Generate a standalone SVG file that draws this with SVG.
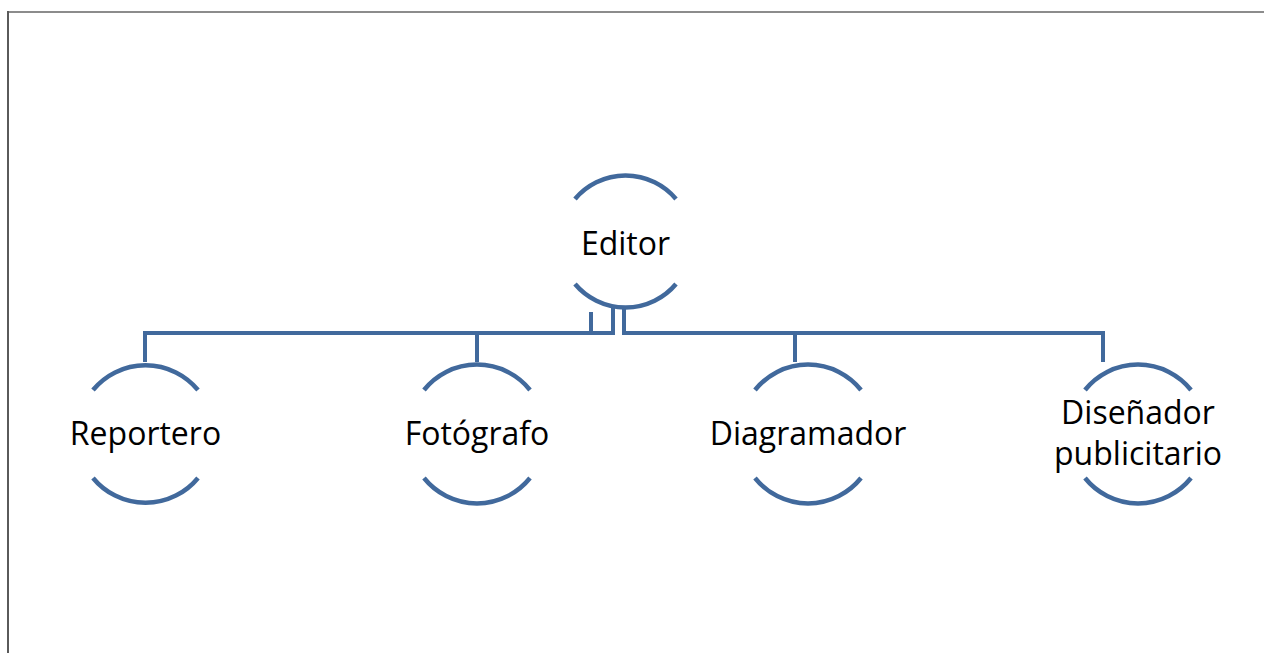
<svg xmlns="http://www.w3.org/2000/svg" width="1264" height="653" viewBox="0 0 1264 653">
<style>
.arc{fill:none;stroke:#41699c;stroke-width:4.5;stroke-linecap:butt}
.con{fill:none;stroke:#41699c;stroke-width:4;stroke-linejoin:miter}
.lbl{font-family:"Open Sans","Noto Sans",sans-serif;font-size:32px;fill:#000;text-anchor:middle}
</style>
<rect width="1264" height="653" fill="#fff"/>
<g id="frame">
<line x1="7" y1="12" x2="1264" y2="12" stroke="#8c8c8c" stroke-width="2"/>
<line x1="8" y1="11" x2="8" y2="653" stroke="#5a5a5a" stroke-width="2"/>
</g>
<g id="connectors">
<path class="con" d="M613 307 V333 H145 V362"/>
<path class="con" d="M591 312 V333 H477 V362"/>
<path class="con" d="M624 307 V333 H795 V362"/>
<path class="con" d="M624 307 V333 H1103 V362"/>
</g>
<g id="editor">
<path class="arc" d="M575 199 A66 66 0 0 1 676 199"/>
<path class="arc" d="M575 284 A66 66 0 0 0 676 284"/>
<text class="lbl" x="625.5" y="255">Editor</text>
</g>
<g id="reportero">
<path class="arc" d="M93 390 A68 68 0 0 1 198 390"/>
<path class="arc" d="M93 478 A68 68 0 0 0 198 478"/>
<text class="lbl" x="145.5" y="445">Reportero</text>
</g>
<g id="fotografo">
<path class="arc" d="M424 390 A68 68 0 0 1 530 390"/>
<path class="arc" d="M424 478 A68 68 0 0 0 530 478"/>
<text class="lbl" x="477" y="445">Fotógrafo</text>
</g>
<g id="diagramador">
<path class="arc" d="M755 390 A68 68 0 0 1 861 390"/>
<path class="arc" d="M755 478 A68 68 0 0 0 861 478"/>
<text class="lbl" x="808" y="445">Diagramador</text>
</g>
<g id="disenador">
<path class="arc" d="M1085 390 A68 68 0 0 1 1191 390"/>
<path class="arc" d="M1085 478 A68 68 0 0 0 1191 478"/>
<text class="lbl" x="1138" y="424">Diseñador</text>
<text class="lbl" x="1138" y="465">publicitario</text>
</g>
</svg>
